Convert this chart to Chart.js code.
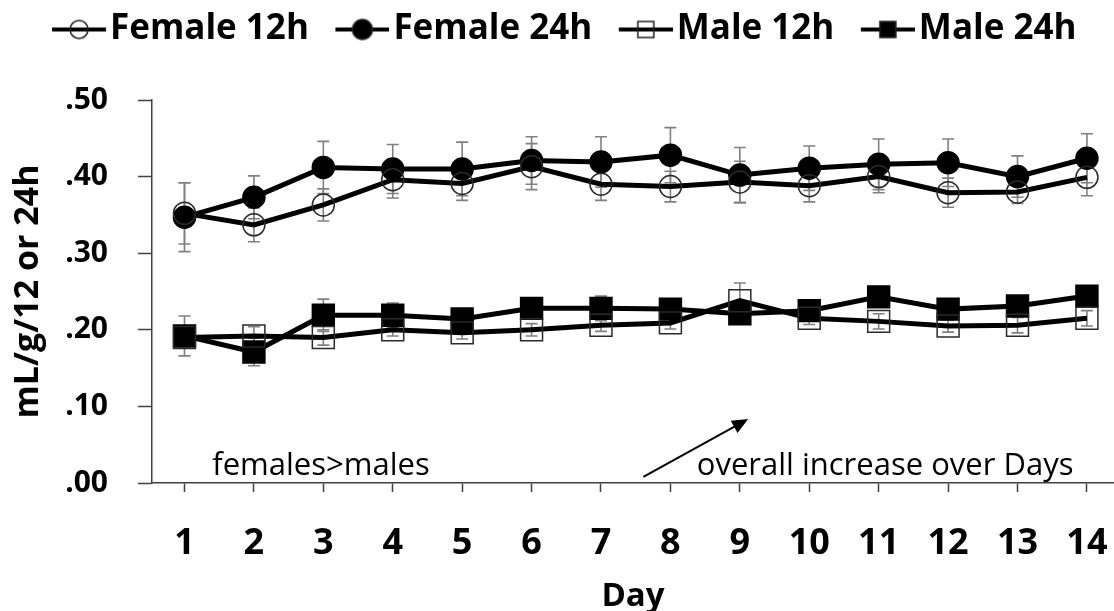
<!DOCTYPE html>
<html>
<head>
<meta charset="utf-8">
<script src="https://cdn.jsdelivr.net/npm/chart.js@4/dist/chart.umd.min.js"></script>
<style>
    html, body { margin: 0; padding: 0; background: #fff; }
    #wrap { width: 1114px; height: 611px; }
</style>
</head>
<body>
<div id="wrap"><canvas id="chart" width="1114" height="611"></canvas></div>
<script>
// data
const days = [1, 2, 3, 4, 5, 6, 7, 8, 9, 10, 11, 12, 13, 14];
const female12 = [0.352, 0.337, 0.363, 0.396, 0.391, 0.413, 0.390, 0.387, 0.393, 0.388, 0.400, 0.379, 0.380, 0.399];
const female24 = [0.347, 0.373, 0.412, 0.410, 0.410, 0.421, 0.419, 0.428, 0.402, 0.411, 0.416, 0.418, 0.400, 0.424];
const male12 = [0.190, 0.192, 0.190, 0.200, 0.196, 0.200, 0.206, 0.209, 0.238, 0.215, 0.211, 0.205, 0.206, 0.215];
const male24 = [0.192, 0.171, 0.219, 0.219, 0.214, 0.228, 0.228, 0.227, 0.221, 0.225, 0.243, 0.227, 0.231, 0.244];
const female12Err = [0.040, 0.022, 0.021, 0.024, 0.022, 0.030, 0.021, 0.020, 0.027, 0.021, 0.021, 0.019, 0.015, 0.024];
const female24Err = [0.045, 0.028, 0.034, 0.032, 0.035, 0.031, 0.033, 0.036, 0.036, 0.029, 0.033, 0.031, 0.027, 0.032];
const male12Err = [0.012, 0.012, 0.010, 0.008, 0.008, 0.008, 0.008, 0.008, 0.023, 0.008, 0.010, 0.008, 0.010, 0.010];
const male24Err = [0.026, 0.018, 0.021, 0.016, 0.012, 0.010, 0.016, 0.010, 0.010, 0.010, 0.010, 0.010, 0.010, 0.010];
const yTicks = [0, 0.1, 0.2, 0.3, 0.4, 0.5];

const FONT = "'Open Sans', 'DejaVu Sans', sans-serif";
const AXIS = '#404040';

function toPoints(vals) {
    return vals.map((v, i) => ({ x: days[i], y: v }));
}

// line+marker icons for the legend; left part is blank to space the items out
const ICON_W = 82, ICON_PAD = 28;
function legendIcon(shape, filled) {
    const c = document.createElement('canvas');
    c.width = ICON_W; c.height = 26;
    const g = c.getContext('2d');
    const cx = ICON_PAD + 27;
    g.strokeStyle = '#000';
    g.lineWidth = 4;
    g.beginPath(); g.moveTo(ICON_PAD, 13); g.lineTo(ICON_PAD + 54, 13); g.stroke();
    g.lineWidth = 1.5;
    g.beginPath();
    if (shape === 'circle') g.arc(cx, 13, filled ? 10 : 9, 0, Math.PI * 2);
    else g.rect(cx - 8, 5, 16, 16);
    if (filled) { g.fillStyle = '#000'; g.fill(); }
    g.strokeStyle = '#222';
    g.stroke();
    return c;
}
const icons = [legendIcon('circle', false), legendIcon('circle', true), legendIcon('rect', false), legendIcon('rect', true)];

function series(label, vals, err, style, filled) {
    return {
        label: label,
        data: toPoints(vals),
        errors: err,
        borderColor: '#000',
        borderWidth: 5,
        tension: 0,
        pointStyle: style,
        pointRadius: style === 'circle' ? 11 : 15.5,
        pointBackgroundColor: filled ? '#000' : 'rgba(0,0,0,0)',
        pointBorderColor: filled ? '#000' : '#2a2a2a',
        pointBorderWidth: 1.5
    };
}

// error bars, drawn under the markers
const errorBars = {
    id: 'errorBars',
    beforeDatasetsDraw(chart) {
        const ctx = chart.ctx;
        const xs = chart.scales.x, ys = chart.scales.y;
        ctx.save();
        ctx.strokeStyle = '#808080';
        ctx.lineWidth = 1.6;
        chart.data.datasets.forEach(ds => {
            ds.data.forEach((p, i) => {
                const e = ds.errors[i];
                const x = xs.getPixelForValue(p.x);
                const y1 = ys.getPixelForValue(p.y + e);
                const y2 = ys.getPixelForValue(p.y - e);
                ctx.beginPath();
                ctx.moveTo(x, y1); ctx.lineTo(x, y2);
                ctx.moveTo(x - 6, y1); ctx.lineTo(x + 6, y1);
                ctx.moveTo(x - 6, y2); ctx.lineTo(x + 6, y2);
                ctx.stroke();
            });
        });
        ctx.restore();
    }
};

// the two notes and the arrow at the bottom of the plot
const noteLeft = { text: 'females>males', x: 1.40, y: 0.010 };
const noteRight = { text: 'overall increase over Days', x: 8.38, y: 0.010 };
const arrow = { x1: 7.61, y1: 0.008, x2: 9.12, y2: 0.0835 };

const notes = {
    id: 'notes',
    afterDraw(chart) {
        const ctx = chart.ctx;
        const xs = chart.scales.x, ys = chart.scales.y;
        ctx.save();
        ctx.fillStyle = '#000';
        ctx.font = '31px ' + FONT;
        ctx.textBaseline = 'alphabetic';
        [noteLeft, noteRight].forEach(n => {
            ctx.fillText(n.text, xs.getPixelForValue(n.x), ys.getPixelForValue(n.y));
        });
        const ax1 = xs.getPixelForValue(arrow.x1), ay1 = ys.getPixelForValue(arrow.y1);
        const ax2 = xs.getPixelForValue(arrow.x2), ay2 = ys.getPixelForValue(arrow.y2);
        const ang = Math.atan2(ay2 - ay1, ax2 - ax1);
        ctx.strokeStyle = '#000';
        ctx.lineWidth = 2;
        ctx.beginPath();
        ctx.moveTo(ax1, ay1);
        ctx.lineTo(ax2 - 10 * Math.cos(ang), ay2 - 10 * Math.sin(ang));
        ctx.stroke();
        ctx.beginPath();
        ctx.moveTo(ax2, ay2);
        ctx.lineTo(ax2 - 16 * Math.cos(ang) + 7 * Math.sin(ang), ay2 - 16 * Math.sin(ang) - 7 * Math.cos(ang));
        ctx.lineTo(ax2 - 16 * Math.cos(ang) - 7 * Math.sin(ang), ay2 - 16 * Math.sin(ang) + 7 * Math.cos(ang));
        ctx.closePath();
        ctx.fill();
        ctx.restore();
    }
};

// fix the legend height so the plot starts where it does in the figure
const legendHeight = {
    id: 'legendHeight',
    beforeInit(chart) {
        const fit = chart.legend.fit;
        chart.legend.fit = function () {
            fit.bind(chart.legend)();
            this.height = 100;
        };
    }
};

new Chart(document.getElementById('chart'), {
    type: 'line',
    data: {
        datasets: [
            series('Female 12h', female12, female12Err, 'circle', false),
            series('Female 24h', female24, female24Err, 'circle', true),
            series('Male 12h', male12, male12Err, 'rect', false),
            series('Male 24h', male24, male24Err, 'rect', true)
        ]
    },
    options: {
        responsive: false,
        animation: false,
        layout: { autoPadding: false, padding: { left: 0, right: 0, top: 0, bottom: 0 } },
        plugins: {
            tooltip: { enabled: false },
            legend: {
                position: 'top',
                labels: {
                    usePointStyle: true,
                    pointStyleWidth: ICON_W - 27,
                    padding: 12,
                    color: '#000',
                    font: { family: FONT, size: 35, weight: 'bold' },
                    generateLabels: chart => chart.data.datasets.map((ds, i) => ({
                        text: ds.label,
                        pointStyle: icons[i],
                        fillStyle: '#000',
                        strokeStyle: '#000',
                        lineWidth: 0,
                        hidden: false,
                        datasetIndex: i,
                        fontColor: '#000'
                    }))
                }
            }
        },
        scales: {
            x: {
                type: 'linear',
                min: 0.532,
                max: 14.39,
                afterBuildTicks: s => { s.ticks = days.map(d => ({ value: d })); },
                afterFit: s => { s.height = 128; s.paddingLeft = 0; s.paddingRight = 0; },
                grid: { drawOnChartArea: false, tickLength: 9, color: AXIS, tickWidth: 1.5 },
                border: { color: AXIS, width: 1.5 },
                ticks: {
                    color: '#000',
                    padding: 30,
                    maxRotation: 0,
                    autoSkip: false,
                    font: { family: FONT, size: 36, weight: 'bold' },
                    callback: v => String(v)
                },
                title: {
                    display: true,
                    text: 'Day',
                    color: '#000',
                    font: { family: FONT, size: 33, weight: 'bold', lineHeight: 1.0 },
                    padding: { top: 0, bottom: -2 }
                }
            },
            y: {
                min: 0,
                max: 0.5,
                afterBuildTicks: s => { s.ticks = yTicks.map(v => ({ value: v })); },
                afterFit: s => { s.width = 152; },
                grid: { drawOnChartArea: false, tickLength: 14, color: AXIS, tickWidth: 1.5 },
                border: { color: AXIS, width: 1.5 },
                ticks: {
                    color: '#000',
                    padding: 30,
                    font: { family: FONT, size: 30, weight: 'bold' },
                    callback: v => v.toFixed(2).replace(/^0/, '')
                },
                title: {
                    display: true,
                    text: 'mL/g/12 or 24h',
                    color: '#000',
                    font: { family: FONT, size: 34, weight: 'bold' },
                    padding: { top: 8, bottom: 0 }
                }
            }
        }
    },
    plugins: [errorBars, notes, legendHeight]
});
</script>
</body>
</html>
